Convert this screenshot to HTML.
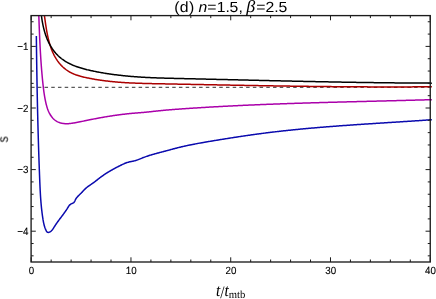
<!DOCTYPE html>
<html><head><meta charset="utf-8"><style>
html,body{margin:0;padding:0;background:#fff;}
body{width:436px;height:299px;overflow:hidden;}
svg{display:block;font-family:"Liberation Sans",sans-serif;text-rendering:geometricPrecision;}
text{will-change:transform;}
</style></head><body>
<svg width="436" height="299" viewBox="0 0 436 299">
<rect width="436" height="299" fill="#fff"/>
<defs><clipPath id="cp"><rect x="31.1" y="15.6" width="400.75" height="246.4"/></clipPath></defs>
<g clip-path="url(#cp)" fill="none" stroke-linejoin="round" stroke-linecap="butt">
<line x1="31.1" y1="87.3" x2="430.25" y2="87.3" stroke="#333" stroke-width="1.0" stroke-dasharray="3.5 3.22"/>
<path d="M42.78 5.15 L42.93 5.98 L43.08 6.81 L43.22 7.64 L43.36 8.48 L43.49 9.32 L43.63 10.16 L43.76 11.01 L43.88 11.86 L44.01 12.71 L44.13 13.56 L44.26 14.42 L44.38 15.27 L44.50 16.13 L44.62 16.99 L44.74 17.86 L44.86 18.72 L44.98 19.59 L45.10 20.46 L45.22 21.33 L45.34 22.20 L45.47 23.07 L45.59 23.94 L45.72 24.82 L45.85 25.69 L45.99 26.56 L46.13 27.44 L46.27 28.32 L46.41 29.19 L46.56 30.07 L46.71 30.94 L46.87 31.82 L47.03 32.70 L47.20 33.57 L47.37 34.45 L47.55 35.32 L47.73 36.20 L47.92 37.07 L48.12 37.94 L48.33 38.81 L48.54 39.69 L48.76 40.55 L48.99 41.42 L49.22 42.29 L49.46 43.15 L49.72 44.02 L49.98 44.88 L50.25 45.73 L50.53 46.59 L50.82 47.44 L51.12 48.28 L51.43 49.12 L51.76 49.96 L52.09 50.79 L52.43 51.61 L52.79 52.43 L53.16 53.24 L53.54 54.04 L53.93 54.83 L54.33 55.62 L54.75 56.39 L55.18 57.16 L55.63 57.92 L56.08 58.67 L56.55 59.40 L57.04 60.13 L57.53 60.85 L58.04 61.55 L58.57 62.24 L59.10 62.92 L59.65 63.59 L60.21 64.24 L60.78 64.88 L61.37 65.51 L61.97 66.12 L62.58 66.72 L63.20 67.30 L63.84 67.87 L64.48 68.43 L65.14 68.96 L65.82 69.48 L66.50 69.99 L67.20 70.48 L67.90 70.95 L68.63 71.40 L69.36 71.83 L70.10 72.25 L70.86 72.65 L71.62 73.03 L72.40 73.39 L73.18 73.74 L73.98 74.08 L74.78 74.40 L75.59 74.71 L76.41 75.00 L77.24 75.28 L78.07 75.55 L78.91 75.81 L79.75 76.06 L80.60 76.30 L81.46 76.52 L82.31 76.74 L83.18 76.96 L84.04 77.16 L84.91 77.36 L85.77 77.55 L86.64 77.74 L87.52 77.92 L88.39 78.10 L89.26 78.27 L90.13 78.44 L91.00 78.61 L91.87 78.77 L92.75 78.93 L93.62 79.09 L94.49 79.24 L95.36 79.39 L96.24 79.53 L97.11 79.67 L97.98 79.81 L98.86 79.95 L99.73 80.08 L100.61 80.20 L101.48 80.33 L102.35 80.45 L103.23 80.57 L104.10 80.68 L104.98 80.79 L105.85 80.90 L106.73 81.01 L107.61 81.11 L108.48 81.21 L109.36 81.31 L110.23 81.40 L111.11 81.49 L111.99 81.58 L112.86 81.67 L113.74 81.75 L114.62 81.84 L115.49 81.91 L116.37 81.99 L117.25 82.06 L118.13 82.14 L119.00 82.21 L119.88 82.27 L120.76 82.34 L121.64 82.40 L122.52 82.46 L123.39 82.52 L124.27 82.58 L125.15 82.63 L126.03 82.69 L126.91 82.74 L127.79 82.79 L128.67 82.83 L129.55 82.88 L130.42 82.92 L131.30 82.97 L132.18 83.01 L133.06 83.05 L133.94 83.09 L134.82 83.12 L135.70 83.16 L136.58 83.19 L137.46 83.22 L138.34 83.26 L139.22 83.29 L140.10 83.32 L140.98 83.34 L141.86 83.37 L142.74 83.40 L143.62 83.42 L144.50 83.45 L145.38 83.47 L146.26 83.49 L147.14 83.51 L148.02 83.54 L148.90 83.56 L149.78 83.58 L150.66 83.60 L151.55 83.62 L152.43 83.63 L153.31 83.65 L154.19 83.67 L155.07 83.69 L155.95 83.70 L156.83 83.72 L157.71 83.74 L158.59 83.76 L159.47 83.77 L160.35 83.79 L161.23 83.81 L162.11 83.82 L162.99 83.84 L163.87 83.86 L164.75 83.87 L165.63 83.89 L166.51 83.91 L167.39 83.92 L168.28 83.94 L169.16 83.96 L170.04 83.97 L170.92 83.99 L171.80 84.01 L172.68 84.03 L173.56 84.04 L174.44 84.06 L175.32 84.08 L176.20 84.09 L177.08 84.11 L177.96 84.13 L178.84 84.14 L179.72 84.16 L180.60 84.18 L181.48 84.20 L182.36 84.21 L183.24 84.23 L184.12 84.25 L185.00 84.26 L185.88 84.28 L186.76 84.30 L187.64 84.31 L188.52 84.33 L189.40 84.35 L190.28 84.37 L191.16 84.38 L192.04 84.40 L192.92 84.42 L193.80 84.43 L194.68 84.45 L195.56 84.47 L196.44 84.48 L197.32 84.50 L198.20 84.52 L199.08 84.54 L199.96 84.55 L200.84 84.57 L201.72 84.59 L202.60 84.60 L203.48 84.62 L204.36 84.64 L205.24 84.65 L206.12 84.67 L207.00 84.69 L207.88 84.70 L208.76 84.72 L209.64 84.74 L210.52 84.75 L211.40 84.77 L212.28 84.79 L213.16 84.81 L214.04 84.82 L214.92 84.84 L215.80 84.86 L216.68 84.87 L217.56 84.89 L218.44 84.91 L219.32 84.92 L220.20 84.94 L221.08 84.95 L221.96 84.97 L222.84 84.99 L223.72 85.00 L224.60 85.02 L225.48 85.04 L226.36 85.05 L227.24 85.07 L228.12 85.09 L229.00 85.10 L229.88 85.12 L230.76 85.13 L231.64 85.15 L232.52 85.17 L233.40 85.18 L234.28 85.20 L235.16 85.22 L236.04 85.23 L236.92 85.25 L237.80 85.26 L238.68 85.28 L239.56 85.30 L240.44 85.31 L241.32 85.33 L242.20 85.34 L243.08 85.36 L243.96 85.37 L244.84 85.39 L245.72 85.41 L246.60 85.42 L247.48 85.44 L248.36 85.45 L249.24 85.47 L250.12 85.48 L251.00 85.50 L251.88 85.51 L252.76 85.53 L253.64 85.54 L254.52 85.56 L255.40 85.57 L256.28 85.59 L257.16 85.60 L258.04 85.62 L258.92 85.63 L259.80 85.65 L260.68 85.66 L261.56 85.68 L262.44 85.69 L263.32 85.71 L264.19 85.72 L265.07 85.74 L265.95 85.75 L266.83 85.77 L267.71 85.78 L268.59 85.79 L269.47 85.81 L270.35 85.82 L271.23 85.84 L272.11 85.85 L272.99 85.86 L273.87 85.88 L274.75 85.89 L275.63 85.91 L276.51 85.92 L277.39 85.93 L278.27 85.95 L279.15 85.96 L280.03 85.97 L280.91 85.99 L281.79 86.00 L282.67 86.01 L283.55 86.03 L284.43 86.04 L285.31 86.05 L286.19 86.07 L287.07 86.08 L287.95 86.09 L288.83 86.10 L289.71 86.12 L290.59 86.13 L291.47 86.14 L292.35 86.16 L293.23 86.17 L294.11 86.18 L294.99 86.19 L295.87 86.20 L296.74 86.22 L297.62 86.23 L298.50 86.24 L299.38 86.25 L300.26 86.26 L301.14 86.28 L302.02 86.29 L302.90 86.30 L303.78 86.31 L304.66 86.32 L305.54 86.33 L306.42 86.34 L307.30 86.35 L308.18 86.37 L309.06 86.38 L309.94 86.39 L310.82 86.40 L311.70 86.41 L312.58 86.42 L313.46 86.43 L314.34 86.44 L315.22 86.45 L316.10 86.46 L316.98 86.47 L317.86 86.48 L318.74 86.49 L319.62 86.50 L320.50 86.51 L321.38 86.52 L322.26 86.53 L323.14 86.54 L324.02 86.55 L324.90 86.56 L325.78 86.57 L326.66 86.58 L327.54 86.58 L328.42 86.59 L329.30 86.60 L330.18 86.61 L331.06 86.62 L331.94 86.63 L332.82 86.64 L333.70 86.64 L334.58 86.65 L335.46 86.66 L336.34 86.67 L337.22 86.68 L338.10 86.68 L338.98 86.69 L339.86 86.70 L340.74 86.71 L341.62 86.71 L342.50 86.72 L343.38 86.73 L344.26 86.73 L345.14 86.74 L346.02 86.75 L346.90 86.75 L347.78 86.76 L348.66 86.77 L349.54 86.77 L350.42 86.78 L351.30 86.79 L352.18 86.79 L353.06 86.80 L353.94 86.80 L354.82 86.81 L355.70 86.81 L356.58 86.82 L357.46 86.82 L358.34 86.83 L359.22 86.83 L360.10 86.84 L360.98 86.84 L361.86 86.85 L362.74 86.85 L363.62 86.86 L364.50 86.86 L365.38 86.86 L366.26 86.87 L367.14 86.87 L368.02 86.88 L368.90 86.88 L369.78 86.88 L370.66 86.89 L371.54 86.89 L372.42 86.89 L373.30 86.89 L374.18 86.90 L375.06 86.90 L375.94 86.90 L376.82 86.90 L377.70 86.91 L378.58 86.91 L379.46 86.91 L380.34 86.91 L381.22 86.91 L382.10 86.92 L382.98 86.92 L383.86 86.92 L384.74 86.92 L385.63 86.92 L386.51 86.92 L387.39 86.92 L388.27 86.92 L389.15 86.92 L390.03 86.92 L390.91 86.92 L391.79 86.92 L392.67 86.92 L393.55 86.92 L394.43 86.92 L395.31 86.92 L396.19 86.92 L397.07 86.92 L397.95 86.92 L398.83 86.92 L399.71 86.91 L400.59 86.91 L401.47 86.91 L402.36 86.91 L403.24 86.91 L404.12 86.90 L405.00 86.90 L405.88 86.90 L406.76 86.90 L407.64 86.89 L408.52 86.89 L409.40 86.89 L410.28 86.88 L411.16 86.88 L412.04 86.88 L412.92 86.87 L413.80 86.87 L414.69 86.87 L415.57 86.86 L416.45 86.86 L417.33 86.85 L418.21 86.85 L419.09 86.84 L419.97 86.84 L420.85 86.83 L421.73 86.83 L422.61 86.82 L423.49 86.82 L424.38 86.81 L425.26 86.80 L426.14 86.80 L427.02 86.79 L427.90 86.78 L428.78 86.78 L429.66 86.77 L430.54 86.76 L431.42 86.76 L432.31 86.75" stroke="#aa0000" stroke-width="1.5"/>
<path d="M40.47 5.14 L40.53 5.94 L40.58 6.74 L40.64 7.55 L40.70 8.37 L40.77 9.19 L40.84 10.01 L40.91 10.84 L40.99 11.68 L41.08 12.52 L41.17 13.37 L41.26 14.22 L41.36 15.07 L41.47 15.92 L41.58 16.78 L41.69 17.64 L41.82 18.51 L41.95 19.37 L42.08 20.24 L42.22 21.11 L42.37 21.98 L42.53 22.85 L42.70 23.72 L42.87 24.59 L43.05 25.46 L43.24 26.33 L43.43 27.20 L43.64 28.07 L43.85 28.94 L44.07 29.80 L44.31 30.66 L44.55 31.52 L44.80 32.38 L45.06 33.23 L45.33 34.08 L45.61 34.93 L45.90 35.77 L46.20 36.61 L46.51 37.44 L46.83 38.27 L47.17 39.09 L47.51 39.91 L47.87 40.72 L48.24 41.53 L48.62 42.32 L49.01 43.11 L49.42 43.90 L49.84 44.67 L50.27 45.44 L50.71 46.20 L51.16 46.95 L51.63 47.69 L52.10 48.42 L52.59 49.14 L53.09 49.85 L53.60 50.55 L54.13 51.24 L54.66 51.91 L55.21 52.58 L55.76 53.23 L56.33 53.87 L56.91 54.49 L57.50 55.10 L58.10 55.70 L58.72 56.29 L59.34 56.86 L59.97 57.41 L60.62 57.95 L61.27 58.48 L61.94 58.99 L62.61 59.49 L63.30 59.97 L63.99 60.44 L64.69 60.90 L65.41 61.35 L66.13 61.78 L66.85 62.21 L67.59 62.62 L68.33 63.02 L69.08 63.40 L69.84 63.78 L70.61 64.15 L71.38 64.50 L72.16 64.85 L72.94 65.19 L73.73 65.51 L74.53 65.83 L75.33 66.14 L76.14 66.44 L76.95 66.73 L77.77 67.01 L78.59 67.29 L79.42 67.56 L80.25 67.82 L81.08 68.07 L81.92 68.32 L82.76 68.56 L83.60 68.79 L84.45 69.02 L85.30 69.24 L86.15 69.45 L87.00 69.67 L87.85 69.87 L88.71 70.07 L89.57 70.27 L90.42 70.46 L91.28 70.65 L92.14 70.84 L93.00 71.02 L93.86 71.20 L94.72 71.38 L95.58 71.55 L96.44 71.72 L97.30 71.89 L98.16 72.05 L99.02 72.21 L99.89 72.37 L100.75 72.53 L101.61 72.68 L102.47 72.83 L103.33 72.98 L104.19 73.12 L105.05 73.26 L105.92 73.40 L106.78 73.54 L107.64 73.67 L108.50 73.80 L109.36 73.93 L110.23 74.05 L111.09 74.18 L111.95 74.30 L112.81 74.42 L113.68 74.53 L114.54 74.65 L115.40 74.76 L116.27 74.86 L117.13 74.97 L117.99 75.07 L118.86 75.18 L119.72 75.28 L120.58 75.37 L121.45 75.47 L122.31 75.56 L123.18 75.65 L124.04 75.74 L124.91 75.83 L125.77 75.91 L126.63 75.99 L127.50 76.08 L128.36 76.15 L129.23 76.23 L130.09 76.31 L130.96 76.38 L131.82 76.45 L132.69 76.52 L133.55 76.59 L134.42 76.66 L135.29 76.72 L136.15 76.78 L137.02 76.84 L137.88 76.90 L138.75 76.96 L139.61 77.02 L140.48 77.07 L141.35 77.13 L142.21 77.18 L143.08 77.23 L143.94 77.28 L144.81 77.33 L145.68 77.38 L146.54 77.42 L147.41 77.47 L148.28 77.51 L149.14 77.55 L150.01 77.59 L150.88 77.63 L151.74 77.67 L152.61 77.71 L153.48 77.74 L154.35 77.78 L155.21 77.81 L156.08 77.85 L156.95 77.88 L157.81 77.91 L158.68 77.94 L159.55 77.97 L160.42 78.00 L161.28 78.03 L162.15 78.06 L163.02 78.09 L163.89 78.11 L164.75 78.14 L165.62 78.16 L166.49 78.19 L167.36 78.21 L168.22 78.24 L169.09 78.26 L169.96 78.28 L170.83 78.30 L171.70 78.33 L172.56 78.35 L173.43 78.37 L174.30 78.39 L175.17 78.41 L176.04 78.43 L176.90 78.45 L177.77 78.47 L178.64 78.49 L179.51 78.51 L180.38 78.53 L181.24 78.55 L182.11 78.57 L182.98 78.59 L183.85 78.61 L184.72 78.63 L185.58 78.65 L186.45 78.67 L187.32 78.69 L188.19 78.71 L189.06 78.73 L189.93 78.75 L190.79 78.77 L191.66 78.79 L192.53 78.81 L193.40 78.83 L194.27 78.85 L195.13 78.87 L196.00 78.89 L196.87 78.91 L197.74 78.93 L198.61 78.95 L199.48 78.97 L200.34 78.99 L201.21 79.01 L202.08 79.03 L202.95 79.05 L203.82 79.07 L204.69 79.09 L205.55 79.11 L206.42 79.13 L207.29 79.15 L208.16 79.17 L209.03 79.19 L209.90 79.21 L210.77 79.23 L211.63 79.25 L212.50 79.27 L213.37 79.29 L214.24 79.31 L215.11 79.33 L215.98 79.36 L216.84 79.38 L217.71 79.40 L218.58 79.42 L219.45 79.44 L220.32 79.46 L221.19 79.48 L222.06 79.50 L222.92 79.52 L223.79 79.54 L224.66 79.56 L225.53 79.58 L226.40 79.60 L227.27 79.62 L228.14 79.64 L229.00 79.66 L229.87 79.69 L230.74 79.71 L231.61 79.73 L232.48 79.75 L233.35 79.77 L234.22 79.79 L235.08 79.81 L235.95 79.83 L236.82 79.85 L237.69 79.87 L238.56 79.89 L239.43 79.91 L240.30 79.93 L241.17 79.95 L242.03 79.98 L242.90 80.00 L243.77 80.02 L244.64 80.04 L245.51 80.06 L246.38 80.08 L247.25 80.10 L248.11 80.12 L248.98 80.14 L249.85 80.16 L250.72 80.18 L251.59 80.20 L252.46 80.22 L253.33 80.24 L254.20 80.26 L255.06 80.28 L255.93 80.30 L256.80 80.32 L257.67 80.35 L258.54 80.37 L259.41 80.39 L260.28 80.41 L261.15 80.43 L262.02 80.45 L262.88 80.47 L263.75 80.49 L264.62 80.51 L265.49 80.53 L266.36 80.55 L267.23 80.57 L268.10 80.59 L268.97 80.61 L269.83 80.63 L270.70 80.65 L271.57 80.67 L272.44 80.69 L273.31 80.71 L274.18 80.73 L275.05 80.75 L275.92 80.77 L276.79 80.79 L277.65 80.81 L278.52 80.83 L279.39 80.85 L280.26 80.87 L281.13 80.89 L282.00 80.91 L282.87 80.93 L283.74 80.95 L284.61 80.96 L285.47 80.98 L286.34 81.00 L287.21 81.02 L288.08 81.04 L288.95 81.06 L289.82 81.08 L290.69 81.10 L291.56 81.12 L292.43 81.14 L293.29 81.16 L294.16 81.18 L295.03 81.20 L295.90 81.21 L296.77 81.23 L297.64 81.25 L298.51 81.27 L299.38 81.29 L300.25 81.31 L301.11 81.33 L301.98 81.35 L302.85 81.36 L303.72 81.38 L304.59 81.40 L305.46 81.42 L306.33 81.44 L307.20 81.46 L308.07 81.47 L308.93 81.49 L309.80 81.51 L310.67 81.53 L311.54 81.55 L312.41 81.56 L313.28 81.58 L314.15 81.60 L315.02 81.62 L315.89 81.63 L316.75 81.65 L317.62 81.67 L318.49 81.69 L319.36 81.70 L320.23 81.72 L321.10 81.74 L321.97 81.76 L322.84 81.77 L323.71 81.79 L324.58 81.81 L325.44 81.82 L326.31 81.84 L327.18 81.86 L328.05 81.87 L328.92 81.89 L329.79 81.91 L330.66 81.92 L331.53 81.94 L332.40 81.96 L333.26 81.97 L334.13 81.99 L335.00 82.00 L335.87 82.02 L336.74 82.04 L337.61 82.05 L338.48 82.07 L339.35 82.08 L340.22 82.10 L341.08 82.11 L341.95 82.13 L342.82 82.14 L343.69 82.16 L344.56 82.17 L345.43 82.19 L346.30 82.20 L347.17 82.22 L348.04 82.23 L348.90 82.25 L349.77 82.26 L350.64 82.28 L351.51 82.29 L352.38 82.31 L353.25 82.32 L354.12 82.33 L354.99 82.35 L355.86 82.36 L356.72 82.38 L357.59 82.39 L358.46 82.40 L359.33 82.42 L360.20 82.43 L361.07 82.44 L361.94 82.46 L362.81 82.47 L363.68 82.48 L364.54 82.50 L365.41 82.51 L366.28 82.52 L367.15 82.53 L368.02 82.55 L368.89 82.56 L369.76 82.57 L370.63 82.58 L371.49 82.59 L372.36 82.61 L373.23 82.62 L374.10 82.63 L374.97 82.64 L375.84 82.65 L376.71 82.66 L377.58 82.68 L378.45 82.69 L379.31 82.70 L380.18 82.71 L381.05 82.72 L381.92 82.73 L382.79 82.74 L383.66 82.75 L384.53 82.76 L385.40 82.77 L386.26 82.78 L387.13 82.79 L388.00 82.80 L388.87 82.81 L389.74 82.82 L390.61 82.83 L391.48 82.84 L392.34 82.85 L393.21 82.86 L394.08 82.87 L394.95 82.88 L395.82 82.89 L396.69 82.89 L397.56 82.90 L398.43 82.91 L399.29 82.92 L400.16 82.93 L401.03 82.94 L401.90 82.94 L402.77 82.95 L403.64 82.96 L404.51 82.97 L405.37 82.97 L406.24 82.98 L407.11 82.99 L407.98 82.99 L408.85 83.00 L409.72 83.01 L410.59 83.01 L411.45 83.02 L412.32 83.03 L413.19 83.03 L414.06 83.04 L414.93 83.05 L415.80 83.05 L416.67 83.06 L417.53 83.06 L418.40 83.07 L419.27 83.07 L420.14 83.08 L421.01 83.08 L421.88 83.09 L422.74 83.09 L423.61 83.10 L424.48 83.10 L425.35 83.10 L426.22 83.11 L427.09 83.11 L427.96 83.11 L428.82 83.12 L429.69 83.12 L430.56 83.12 L431.43 83.13 L432.30 83.13" stroke="#000" stroke-width="1.5"/>
<path d="M38.44 5.02 L38.46 5.63 L38.48 6.25 L38.50 6.87 L38.53 7.49 L38.55 8.11 L38.57 8.73 L38.59 9.35 L38.61 9.97 L38.64 10.59 L38.66 11.21 L38.68 11.83 L38.70 12.45 L38.72 13.07 L38.74 13.70 L38.77 14.32 L38.79 14.94 L38.81 15.56 L38.83 16.18 L38.85 16.80 L38.88 17.42 L38.90 18.04 L38.92 18.67 L38.94 19.29 L38.97 19.91 L38.99 20.53 L39.01 21.15 L39.03 21.78 L39.06 22.40 L39.08 23.02 L39.10 23.64 L39.13 24.27 L39.15 24.89 L39.17 25.51 L39.20 26.13 L39.22 26.76 L39.24 27.38 L39.27 28.00 L39.29 28.62 L39.32 29.25 L39.34 29.87 L39.37 30.49 L39.39 31.12 L39.42 31.74 L39.44 32.36 L39.47 32.99 L39.49 33.61 L39.52 34.23 L39.55 34.86 L39.57 35.48 L39.60 36.10 L39.63 36.73 L39.65 37.35 L39.68 37.97 L39.71 38.60 L39.74 39.22 L39.77 39.84 L39.80 40.47 L39.83 41.09 L39.86 41.71 L39.89 42.34 L39.92 42.96 L39.95 43.58 L39.98 44.21 L40.01 44.83 L40.04 45.45 L40.07 46.07 L40.10 46.70 L40.14 47.32 L40.17 47.94 L40.20 48.57 L40.24 49.19 L40.27 49.81 L40.30 50.44 L40.34 51.06 L40.38 51.68 L40.41 52.30 L40.45 52.93 L40.48 53.55 L40.52 54.17 L40.56 54.79 L40.60 55.42 L40.64 56.04 L40.67 56.66 L40.71 57.28 L40.75 57.91 L40.79 58.53 L40.83 59.15 L40.88 59.77 L40.92 60.39 L40.96 61.01 L41.00 61.64 L41.05 62.26 L41.09 62.88 L41.13 63.50 L41.18 64.12 L41.23 64.74 L41.27 65.36 L41.32 65.98 L41.37 66.60 L41.41 67.22 L41.46 67.84 L41.51 68.46 L41.56 69.08 L41.61 69.70 L41.66 70.32 L41.71 70.94 L41.77 71.56 L41.82 72.18 L41.87 72.80 L41.92 73.42 L41.98 74.04 L42.03 74.66 L42.09 75.28 L42.15 75.89 L42.20 76.51 L42.26 77.13 L42.32 77.75 L42.38 78.36 L42.44 78.98 L42.50 79.60 L42.56 80.22 L42.62 80.83 L42.69 81.45 L42.75 82.07 L42.82 82.68 L42.88 83.30 L42.95 83.91 L43.01 84.53 L43.08 85.15 L43.15 85.76 L43.22 86.38 L43.29 86.99 L43.36 87.61 L43.43 88.22 L43.51 88.83 L43.59 89.45 L43.66 90.06 L43.74 90.68 L43.83 91.29 L43.91 91.91 L44.00 92.52 L44.08 93.13 L44.18 93.75 L44.27 94.36 L44.36 94.98 L44.46 95.59 L44.57 96.20 L44.67 96.82 L44.78 97.43 L44.89 98.05 L45.00 98.66 L45.12 99.28 L45.24 99.89 L45.37 100.50 L45.49 101.12 L45.63 101.73 L45.76 102.35 L45.90 102.97 L46.05 103.58 L46.20 104.20 L46.35 104.81 L46.51 105.42 L46.68 106.04 L46.85 106.64 L47.03 107.25 L47.22 107.86 L47.42 108.46 L47.62 109.06 L47.84 109.65 L48.06 110.24 L48.30 110.82 L48.55 111.40 L48.80 111.98 L49.07 112.55 L49.35 113.11 L49.65 113.66 L49.96 114.21 L50.28 114.75 L50.61 115.28 L50.96 115.80 L51.32 116.31 L51.69 116.81 L52.08 117.29 L52.48 117.77 L52.89 118.22 L53.32 118.67 L53.76 119.10 L54.21 119.51 L54.67 119.90 L55.15 120.27 L55.64 120.63 L56.14 120.97 L56.66 121.28 L57.18 121.58 L57.72 121.85 L58.27 122.10 L58.83 122.34 L59.40 122.55 L59.97 122.75 L60.56 122.93 L61.15 123.09 L61.74 123.23 L62.35 123.35 L62.95 123.45 L63.57 123.54 L64.18 123.60 L64.80 123.65 L65.42 123.69 L66.05 123.70 L66.67 123.71 L67.30 123.69 L67.93 123.67 L68.56 123.63 L69.19 123.58 L69.82 123.52 L70.45 123.45 L71.08 123.37 L71.71 123.29 L72.34 123.20 L72.97 123.10 L73.60 123.00 L74.22 122.89 L74.85 122.78 L75.47 122.67 L76.09 122.56 L76.71 122.45 L77.33 122.33 L77.95 122.21 L78.56 122.10 L79.18 121.98 L79.79 121.85 L80.40 121.73 L81.01 121.61 L81.62 121.49 L82.23 121.36 L82.84 121.24 L83.45 121.11 L84.05 120.98 L84.66 120.86 L85.27 120.73 L85.87 120.61 L86.48 120.48 L87.09 120.35 L87.69 120.23 L88.30 120.10 L88.90 119.98 L89.51 119.85 L90.12 119.73 L90.73 119.61 L91.33 119.48 L91.94 119.36 L92.55 119.24 L93.16 119.12 L93.77 119.00 L94.38 118.88 L94.99 118.77 L95.60 118.65 L96.21 118.53 L96.82 118.42 L97.43 118.30 L98.04 118.19 L98.65 118.07 L99.26 117.96 L99.87 117.85 L100.49 117.74 L101.10 117.63 L101.71 117.52 L102.32 117.41 L102.94 117.30 L103.55 117.20 L104.16 117.09 L104.78 116.98 L105.39 116.88 L106.00 116.78 L106.62 116.67 L107.23 116.57 L107.85 116.47 L108.46 116.37 L109.08 116.27 L109.69 116.17 L110.31 116.08 L110.92 115.98 L111.54 115.89 L112.16 115.79 L112.77 115.70 L113.39 115.61 L114.01 115.52 L114.62 115.43 L115.24 115.34 L115.86 115.25 L116.47 115.16 L117.09 115.08 L117.71 114.99 L118.33 114.91 L118.94 114.82 L119.56 114.74 L120.18 114.66 L120.80 114.58 L121.42 114.50 L122.04 114.43 L122.65 114.35 L123.27 114.28 L123.89 114.20 L124.51 114.13 L125.13 114.06 L125.75 113.99 L126.37 113.92 L126.99 113.85 L127.61 113.78 L128.23 113.72 L128.85 113.65 L129.47 113.59 L130.09 113.53 L130.71 113.47 L131.33 113.41 L131.95 113.35 L132.57 113.29 L133.19 113.24 L133.81 113.18 L134.43 113.13 L135.05 113.08 L135.67 113.03 L136.29 112.98 L136.91 112.93 L137.53 112.88 L138.15 112.84 L138.77 112.79 L139.39 112.74 L140.01 112.69 L140.63 112.65 L141.25 112.60 L141.87 112.55 L142.49 112.50 L143.11 112.45 L143.73 112.39 L144.35 112.34 L144.97 112.28 L145.59 112.22 L146.21 112.16 L146.83 112.10 L147.45 112.04 L148.07 111.97 L148.69 111.90 L149.30 111.84 L149.92 111.77 L150.54 111.70 L151.16 111.63 L151.78 111.56 L152.40 111.49 L153.02 111.42 L153.64 111.35 L154.26 111.28 L154.88 111.21 L155.49 111.15 L156.11 111.08 L156.73 111.02 L157.35 110.95 L157.97 110.89 L158.59 110.82 L159.21 110.76 L159.83 110.70 L160.45 110.64 L161.07 110.58 L161.69 110.52 L162.31 110.46 L162.93 110.40 L163.55 110.35 L164.17 110.29 L164.79 110.23 L165.41 110.18 L166.03 110.12 L166.65 110.07 L167.27 110.02 L167.89 109.96 L168.51 109.91 L169.13 109.86 L169.76 109.81 L170.38 109.76 L171.00 109.71 L171.62 109.66 L172.24 109.61 L172.86 109.56 L173.48 109.51 L174.10 109.46 L174.72 109.42 L175.34 109.37 L175.96 109.32 L176.58 109.28 L177.21 109.23 L177.83 109.18 L178.45 109.14 L179.07 109.09 L179.69 109.05 L180.31 109.00 L180.93 108.96 L181.55 108.92 L182.17 108.87 L182.80 108.83 L183.42 108.79 L184.04 108.74 L184.66 108.70 L185.28 108.66 L185.90 108.61 L186.52 108.57 L187.14 108.53 L187.77 108.49 L188.39 108.44 L189.01 108.40 L189.63 108.36 L190.25 108.32 L190.87 108.28 L191.49 108.24 L192.11 108.20 L192.74 108.16 L193.36 108.11 L193.98 108.07 L194.60 108.03 L195.22 107.99 L195.84 107.95 L196.46 107.91 L197.09 107.88 L197.71 107.84 L198.33 107.80 L198.95 107.76 L199.57 107.72 L200.19 107.68 L200.81 107.64 L201.44 107.60 L202.06 107.56 L202.68 107.53 L203.30 107.49 L203.92 107.45 L204.54 107.41 L205.16 107.38 L205.79 107.34 L206.41 107.30 L207.03 107.26 L207.65 107.23 L208.27 107.19 L208.89 107.15 L209.52 107.12 L210.14 107.08 L210.76 107.05 L211.38 107.01 L212.00 106.97 L212.62 106.94 L213.25 106.90 L213.87 106.87 L214.49 106.83 L215.11 106.80 L215.73 106.76 L216.35 106.73 L216.98 106.69 L217.60 106.66 L218.22 106.63 L218.84 106.59 L219.46 106.56 L220.08 106.52 L220.71 106.49 L221.33 106.46 L221.95 106.42 L222.57 106.39 L223.19 106.36 L223.81 106.33 L224.44 106.29 L225.06 106.26 L225.68 106.23 L226.30 106.20 L226.92 106.16 L227.54 106.13 L228.17 106.10 L228.79 106.07 L229.41 106.04 L230.03 106.00 L230.65 105.97 L231.28 105.94 L231.90 105.91 L232.52 105.88 L233.14 105.85 L233.76 105.82 L234.39 105.79 L235.01 105.76 L235.63 105.73 L236.25 105.70 L236.87 105.67 L237.49 105.64 L238.12 105.61 L238.74 105.58 L239.36 105.55 L239.98 105.52 L240.60 105.49 L241.23 105.46 L241.85 105.43 L242.47 105.40 L243.09 105.37 L243.71 105.35 L244.34 105.32 L244.96 105.29 L245.58 105.26 L246.20 105.23 L246.82 105.21 L247.45 105.18 L248.07 105.15 L248.69 105.12 L249.31 105.09 L249.93 105.07 L250.56 105.04 L251.18 105.01 L251.80 104.99 L252.42 104.96 L253.04 104.93 L253.67 104.91 L254.29 104.88 L254.91 104.85 L255.53 104.83 L256.15 104.80 L256.78 104.77 L257.40 104.75 L258.02 104.72 L258.64 104.70 L259.27 104.67 L259.89 104.65 L260.51 104.62 L261.13 104.59 L261.75 104.57 L262.38 104.54 L263.00 104.52 L263.62 104.49 L264.24 104.47 L264.86 104.44 L265.49 104.42 L266.11 104.40 L266.73 104.37 L267.35 104.35 L267.98 104.32 L268.60 104.30 L269.22 104.27 L269.84 104.25 L270.46 104.23 L271.09 104.20 L271.71 104.18 L272.33 104.16 L272.95 104.13 L273.58 104.11 L274.20 104.09 L274.82 104.06 L275.44 104.04 L276.06 104.02 L276.69 103.99 L277.31 103.97 L277.93 103.95 L278.55 103.93 L279.18 103.90 L279.80 103.88 L280.42 103.86 L281.04 103.84 L281.67 103.82 L282.29 103.79 L282.91 103.77 L283.53 103.75 L284.15 103.73 L284.78 103.71 L285.40 103.68 L286.02 103.66 L286.64 103.64 L287.27 103.62 L287.89 103.60 L288.51 103.58 L289.13 103.56 L289.76 103.54 L290.38 103.51 L291.00 103.49 L291.62 103.47 L292.24 103.45 L292.87 103.43 L293.49 103.41 L294.11 103.39 L294.73 103.37 L295.36 103.35 L295.98 103.33 L296.60 103.31 L297.22 103.29 L297.85 103.27 L298.47 103.25 L299.09 103.23 L299.71 103.21 L300.34 103.19 L300.96 103.17 L301.58 103.15 L302.20 103.13 L302.83 103.11 L303.45 103.09 L304.07 103.07 L304.69 103.05 L305.32 103.04 L305.94 103.02 L306.56 103.00 L307.18 102.98 L307.80 102.96 L308.43 102.94 L309.05 102.92 L309.67 102.90 L310.29 102.88 L310.92 102.87 L311.54 102.85 L312.16 102.83 L312.78 102.81 L313.41 102.79 L314.03 102.77 L314.65 102.76 L315.27 102.74 L315.90 102.72 L316.52 102.70 L317.14 102.68 L317.76 102.66 L318.39 102.65 L319.01 102.63 L319.63 102.61 L320.25 102.59 L320.88 102.58 L321.50 102.56 L322.12 102.54 L322.74 102.52 L323.37 102.51 L323.99 102.49 L324.61 102.47 L325.23 102.45 L325.86 102.44 L326.48 102.42 L327.10 102.40 L327.72 102.38 L328.35 102.37 L328.97 102.35 L329.59 102.33 L330.21 102.32 L330.84 102.30 L331.46 102.28 L332.08 102.26 L332.70 102.25 L333.33 102.23 L333.95 102.21 L334.57 102.20 L335.19 102.18 L335.82 102.16 L336.44 102.15 L337.06 102.13 L337.68 102.11 L338.31 102.10 L338.93 102.08 L339.55 102.06 L340.17 102.05 L340.80 102.03 L341.42 102.02 L342.04 102.00 L342.66 101.98 L343.29 101.97 L343.91 101.95 L344.53 101.93 L345.15 101.92 L345.78 101.90 L346.40 101.89 L347.02 101.87 L347.65 101.85 L348.27 101.84 L348.89 101.82 L349.51 101.80 L350.14 101.79 L350.76 101.77 L351.38 101.76 L352.00 101.74 L352.63 101.73 L353.25 101.71 L353.87 101.69 L354.49 101.68 L355.12 101.66 L355.74 101.65 L356.36 101.63 L356.98 101.61 L357.61 101.60 L358.23 101.58 L358.85 101.57 L359.47 101.55 L360.10 101.54 L360.72 101.52 L361.34 101.50 L361.96 101.49 L362.59 101.47 L363.21 101.46 L363.83 101.44 L364.45 101.43 L365.08 101.41 L365.70 101.39 L366.32 101.38 L366.94 101.36 L367.57 101.35 L368.19 101.33 L368.81 101.32 L369.43 101.30 L370.06 101.29 L370.68 101.27 L371.30 101.25 L371.92 101.24 L372.55 101.22 L373.17 101.21 L373.79 101.19 L374.41 101.18 L375.04 101.16 L375.66 101.15 L376.28 101.13 L376.90 101.11 L377.53 101.10 L378.15 101.08 L378.77 101.07 L379.39 101.05 L380.02 101.04 L380.64 101.02 L381.26 101.01 L381.88 100.99 L382.51 100.97 L383.13 100.96 L383.75 100.94 L384.37 100.93 L385.00 100.91 L385.62 100.90 L386.24 100.88 L386.86 100.86 L387.49 100.85 L388.11 100.83 L388.73 100.82 L389.35 100.80 L389.98 100.79 L390.60 100.77 L391.22 100.75 L391.84 100.74 L392.47 100.72 L393.09 100.71 L393.71 100.69 L394.33 100.68 L394.96 100.66 L395.58 100.64 L396.20 100.63 L396.82 100.61 L397.45 100.60 L398.07 100.58 L398.69 100.56 L399.31 100.55 L399.94 100.53 L400.56 100.52 L401.18 100.50 L401.80 100.48 L402.43 100.47 L403.05 100.45 L403.67 100.43 L404.29 100.42 L404.92 100.40 L405.54 100.39 L406.16 100.37 L406.78 100.35 L407.41 100.34 L408.03 100.32 L408.65 100.30 L409.27 100.29 L409.89 100.27 L410.52 100.25 L411.14 100.24 L411.76 100.22 L412.38 100.20 L413.01 100.19 L413.63 100.17 L414.25 100.15 L414.87 100.14 L415.50 100.12 L416.12 100.10 L416.74 100.09 L417.36 100.07 L417.99 100.05 L418.61 100.04 L419.23 100.02 L419.85 100.00 L420.48 99.98 L421.10 99.97 L421.72 99.95 L422.34 99.93 L422.96 99.91 L423.59 99.90 L424.21 99.88 L424.83 99.86 L425.45 99.84 L426.08 99.83 L426.70 99.81 L427.32 99.79 L427.94 99.77 L428.57 99.76 L429.19 99.74 L429.81 99.72 L430.43 99.70 L431.05 99.68 L431.68 99.67 L432.30 99.65" stroke="#aa00aa" stroke-width="1.5"/>
<path d="M36.35 36.00 L36.36 36.68 L36.37 37.37 L36.38 38.05 L36.38 38.74 L36.39 39.42 L36.40 40.10 L36.41 40.79 L36.42 41.47 L36.42 42.16 L36.43 42.84 L36.44 43.53 L36.45 44.21 L36.46 44.89 L36.46 45.58 L36.47 46.26 L36.48 46.95 L36.49 47.63 L36.50 48.32 L36.51 49.00 L36.52 49.68 L36.52 50.37 L36.53 51.05 L36.54 51.74 L36.55 52.42 L36.56 53.11 L36.57 53.79 L36.58 54.47 L36.59 55.16 L36.60 55.84 L36.61 56.53 L36.61 57.21 L36.62 57.90 L36.63 58.58 L36.64 59.26 L36.65 59.95 L36.66 60.63 L36.67 61.32 L36.68 62.00 L36.69 62.68 L36.70 63.37 L36.71 64.05 L36.72 64.74 L36.73 65.42 L36.74 66.11 L36.75 66.79 L36.76 67.47 L36.77 68.16 L36.78 68.84 L36.79 69.53 L36.81 70.21 L36.82 70.89 L36.83 71.58 L36.84 72.26 L36.85 72.95 L36.86 73.63 L36.87 74.32 L36.88 75.00 L36.89 75.68 L36.91 76.37 L36.92 77.05 L36.93 77.74 L36.94 78.42 L36.95 79.10 L36.96 79.79 L36.98 80.47 L36.99 81.16 L37.00 81.84 L37.01 82.52 L37.02 83.21 L37.04 83.89 L37.05 84.58 L37.06 85.26 L37.07 85.95 L37.09 86.63 L37.10 87.31 L37.11 88.00 L37.12 88.68 L37.14 89.37 L37.15 90.05 L37.16 90.73 L37.18 91.42 L37.19 92.10 L37.20 92.79 L37.22 93.47 L37.23 94.15 L37.24 94.84 L37.26 95.52 L37.27 96.21 L37.28 96.89 L37.30 97.57 L37.31 98.26 L37.33 98.94 L37.34 99.63 L37.35 100.31 L37.37 100.99 L37.38 101.68 L37.40 102.36 L37.41 103.05 L37.43 103.73 L37.44 104.41 L37.46 105.10 L37.47 105.78 L37.49 106.47 L37.50 107.15 L37.52 107.83 L37.53 108.52 L37.55 109.20 L37.56 109.89 L37.58 110.57 L37.60 111.25 L37.61 111.94 L37.63 112.62 L37.64 113.31 L37.66 113.99 L37.68 114.67 L37.69 115.36 L37.71 116.04 L37.73 116.73 L37.74 117.41 L37.76 118.09 L37.78 118.78 L37.79 119.46 L37.81 120.15 L37.83 120.83 L37.84 121.51 L37.86 122.20 L37.88 122.88 L37.90 123.57 L37.91 124.25 L37.93 124.93 L37.95 125.62 L37.97 126.30 L37.99 126.99 L38.00 127.67 L38.02 128.35 L38.04 129.04 L38.06 129.72 L38.08 130.41 L38.10 131.09 L38.11 131.77 L38.13 132.46 L38.15 133.14 L38.17 133.83 L38.19 134.51 L38.21 135.19 L38.23 135.88 L38.25 136.56 L38.27 137.25 L38.29 137.93 L38.31 138.61 L38.33 139.30 L38.35 139.98 L38.37 140.67 L38.39 141.35 L38.41 142.03 L38.43 142.72 L38.45 143.40 L38.47 144.08 L38.49 144.77 L38.51 145.45 L38.53 146.14 L38.55 146.82 L38.58 147.50 L38.60 148.19 L38.62 148.87 L38.64 149.56 L38.66 150.24 L38.68 150.92 L38.71 151.61 L38.73 152.29 L38.75 152.98 L38.77 153.66 L38.80 154.34 L38.82 155.03 L38.84 155.71 L38.86 156.40 L38.89 157.08 L38.91 157.76 L38.93 158.45 L38.96 159.13 L38.98 159.82 L39.00 160.50 L39.03 161.18 L39.05 161.87 L39.07 162.55 L39.10 163.23 L39.12 163.92 L39.15 164.60 L39.17 165.29 L39.20 165.97 L39.22 166.65 L39.24 167.34 L39.27 168.02 L39.29 168.71 L39.32 169.39 L39.34 170.07 L39.37 170.76 L39.40 171.44 L39.42 172.13 L39.45 172.81 L39.47 173.49 L39.50 174.18 L39.52 174.86 L39.55 175.55 L39.58 176.23 L39.60 176.91 L39.63 177.60 L39.66 178.28 L39.68 178.96 L39.71 179.65 L39.74 180.33 L39.77 181.02 L39.79 181.70 L39.82 182.38 L39.85 183.07 L39.88 183.75 L39.91 184.44 L39.94 185.12 L39.97 185.80 L40.00 186.49 L40.03 187.17 L40.06 187.85 L40.10 188.54 L40.13 189.22 L40.16 189.90 L40.20 190.59 L40.23 191.27 L40.27 191.95 L40.31 192.64 L40.35 193.32 L40.39 194.00 L40.43 194.69 L40.47 195.37 L40.51 196.05 L40.56 196.73 L40.60 197.42 L40.65 198.10 L40.70 198.78 L40.75 199.46 L40.80 200.14 L40.85 200.82 L40.90 201.51 L40.96 202.19 L41.02 202.87 L41.08 203.55 L41.14 204.23 L41.20 204.91 L41.26 205.59 L41.33 206.27 L41.39 206.95 L41.46 207.63 L41.53 208.31 L41.61 208.99 L41.68 209.67 L41.76 210.35 L41.84 211.03 L41.92 211.71 L42.00 212.39 L42.09 213.06 L42.18 213.74 L42.27 214.42 L42.36 215.10 L42.45 215.77 L42.55 216.45 L42.65 217.13 L42.75 217.80 L42.86 218.48 L42.96 219.16 L43.08 219.83 L43.19 220.51 L43.31 221.18 L43.43 221.86 L43.56 222.53 L43.70 223.20 L43.85 223.87 L44.01 224.54 L44.18 225.21 L44.36 225.87 L44.56 226.53 L44.77 227.19 L44.99 227.85 L45.23 228.51 L45.49 229.16 L45.77 229.81 L46.06 230.46 L46.38 231.08 L46.75 231.64 L47.17 232.08 L47.66 232.37 L48.24 232.46 L48.88 232.36 L49.55 232.11 L50.22 231.74 L50.85 231.30 L51.41 230.82 L51.92 230.30 L52.37 229.76 L52.78 229.20 L53.16 228.63 L53.53 228.05 L53.90 227.47 L54.26 226.90 L54.63 226.32 L55.01 225.75 L55.38 225.17 L55.76 224.61 L56.14 224.04 L56.52 223.48 L56.91 222.91 L57.30 222.36 L57.70 221.80 L58.10 221.25 L58.50 220.70 L58.90 220.15 L59.31 219.60 L59.71 219.05 L60.12 218.51 L60.53 217.96 L60.95 217.42 L61.36 216.88 L61.77 216.33 L62.18 215.79 L62.59 215.24 L63.00 214.69 L63.41 214.14 L63.81 213.59 L64.21 213.04 L64.61 212.48 L65.01 211.92 L65.40 211.36 L65.79 210.80 L66.18 210.23 L66.55 209.65 L66.93 209.08 L67.30 208.49 L67.66 207.91 L68.02 207.31 L68.38 206.73 L68.76 206.16 L69.16 205.61 L69.60 205.10 L70.08 204.64 L70.62 204.22 L71.22 203.88 L71.86 203.57 L72.51 203.28 L73.14 202.96 L73.71 202.59 L74.19 202.14 L74.56 201.58 L74.87 200.97 L75.15 200.32 L75.43 199.68 L75.75 199.07 L76.11 198.49 L76.49 197.93 L76.90 197.40 L77.33 196.89 L77.78 196.39 L78.25 195.90 L78.73 195.43 L79.22 194.96 L79.72 194.50 L80.22 194.03 L80.71 193.56 L81.21 193.09 L81.69 192.60 L82.17 192.11 L82.64 191.61 L83.10 191.10 L83.57 190.59 L84.04 190.09 L84.51 189.59 L84.99 189.10 L85.48 188.63 L85.98 188.16 L86.49 187.72 L87.02 187.29 L87.55 186.87 L88.10 186.46 L88.65 186.06 L89.21 185.66 L89.77 185.27 L90.34 184.89 L90.90 184.50 L91.47 184.12 L92.04 183.74 L92.60 183.35 L93.16 182.95 L93.72 182.55 L94.27 182.14 L94.82 181.73 L95.36 181.31 L95.91 180.89 L96.45 180.46 L96.99 180.04 L97.53 179.61 L98.07 179.19 L98.61 178.76 L99.15 178.34 L99.69 177.93 L100.24 177.51 L100.78 177.10 L101.33 176.70 L101.89 176.30 L102.44 175.90 L103.00 175.51 L103.57 175.12 L104.13 174.74 L104.70 174.36 L105.27 173.98 L105.84 173.61 L106.41 173.24 L106.99 172.87 L107.57 172.51 L108.15 172.15 L108.73 171.80 L109.31 171.45 L109.90 171.10 L110.49 170.75 L111.08 170.41 L111.67 170.07 L112.27 169.74 L112.87 169.40 L113.46 169.07 L114.07 168.75 L114.67 168.42 L115.27 168.10 L115.88 167.78 L116.48 167.46 L117.09 167.14 L117.70 166.83 L118.31 166.52 L118.93 166.21 L119.54 165.90 L120.16 165.60 L120.77 165.29 L121.39 164.99 L122.01 164.69 L122.63 164.39 L123.25 164.10 L123.88 163.82 L124.51 163.55 L125.14 163.28 L125.78 163.03 L126.42 162.79 L127.06 162.57 L127.71 162.36 L128.36 162.17 L129.02 162.00 L129.68 161.84 L130.35 161.70 L131.02 161.56 L131.69 161.43 L132.36 161.30 L133.03 161.16 L133.69 161.01 L134.36 160.86 L135.02 160.69 L135.67 160.51 L136.32 160.30 L136.97 160.09 L137.61 159.85 L138.25 159.61 L138.89 159.36 L139.52 159.11 L140.16 158.85 L140.79 158.59 L141.43 158.33 L142.06 158.07 L142.70 157.82 L143.34 157.57 L143.98 157.33 L144.62 157.09 L145.26 156.85 L145.91 156.63 L146.55 156.40 L147.20 156.18 L147.85 155.96 L148.50 155.75 L149.15 155.54 L149.80 155.34 L150.46 155.14 L151.11 154.94 L151.77 154.74 L152.42 154.55 L153.08 154.36 L153.74 154.17 L154.40 153.98 L155.05 153.80 L155.71 153.62 L156.37 153.44 L157.03 153.26 L157.70 153.08 L158.36 152.91 L159.02 152.73 L159.68 152.56 L160.34 152.38 L161.01 152.21 L161.67 152.03 L162.33 151.86 L162.99 151.69 L163.66 151.51 L164.32 151.34 L164.98 151.17 L165.64 150.99 L166.31 150.81 L166.97 150.64 L167.63 150.46 L168.29 150.28 L168.95 150.10 L169.61 149.92 L170.27 149.74 L170.93 149.56 L171.59 149.38 L172.26 149.20 L172.92 149.02 L173.58 148.85 L174.24 148.67 L174.90 148.49 L175.56 148.32 L176.22 148.15 L176.89 147.98 L177.55 147.81 L178.21 147.64 L178.88 147.47 L179.54 147.31 L180.21 147.15 L180.87 146.99 L181.54 146.83 L182.20 146.68 L182.87 146.52 L183.53 146.37 L184.20 146.22 L184.87 146.07 L185.54 145.92 L186.20 145.78 L186.87 145.63 L187.54 145.49 L188.21 145.35 L188.88 145.21 L189.55 145.07 L190.22 144.93 L190.89 144.80 L191.56 144.66 L192.23 144.53 L192.90 144.40 L193.57 144.27 L194.24 144.14 L194.92 144.01 L195.59 143.88 L196.26 143.75 L196.93 143.63 L197.61 143.50 L198.28 143.38 L198.95 143.26 L199.62 143.13 L200.30 143.01 L200.97 142.89 L201.64 142.77 L202.32 142.65 L202.99 142.54 L203.67 142.42 L204.34 142.30 L205.01 142.18 L205.69 142.07 L206.36 141.95 L207.04 141.84 L207.71 141.72 L208.39 141.61 L209.06 141.50 L209.74 141.38 L210.41 141.27 L211.09 141.16 L211.76 141.04 L212.44 140.93 L213.11 140.82 L213.79 140.71 L214.46 140.60 L215.14 140.48 L215.81 140.37 L216.49 140.26 L217.17 140.15 L217.84 140.04 L218.52 139.93 L219.19 139.82 L219.87 139.71 L220.54 139.60 L221.22 139.49 L221.89 139.38 L222.57 139.27 L223.25 139.16 L223.92 139.05 L224.60 138.94 L225.27 138.83 L225.95 138.73 L226.62 138.62 L227.30 138.51 L227.98 138.40 L228.65 138.30 L229.33 138.19 L230.00 138.08 L230.68 137.98 L231.36 137.87 L232.03 137.77 L232.71 137.66 L233.39 137.56 L234.06 137.45 L234.74 137.35 L235.41 137.24 L236.09 137.14 L236.77 137.04 L237.44 136.93 L238.12 136.83 L238.80 136.73 L239.47 136.63 L240.15 136.52 L240.83 136.42 L241.50 136.32 L242.18 136.22 L242.86 136.12 L243.54 136.02 L244.21 135.92 L244.89 135.82 L245.57 135.72 L246.24 135.63 L246.92 135.53 L247.60 135.43 L248.28 135.33 L248.95 135.23 L249.63 135.14 L250.31 135.04 L250.99 134.95 L251.66 134.85 L252.34 134.76 L253.02 134.66 L253.70 134.57 L254.37 134.47 L255.05 134.38 L255.73 134.29 L256.41 134.19 L257.09 134.10 L257.76 134.01 L258.44 133.92 L259.12 133.83 L259.80 133.74 L260.48 133.65 L261.15 133.56 L261.83 133.47 L262.51 133.38 L263.19 133.29 L263.87 133.21 L264.55 133.12 L265.22 133.03 L265.90 132.95 L266.58 132.86 L267.26 132.77 L267.94 132.69 L268.62 132.61 L269.30 132.52 L269.98 132.44 L270.66 132.36 L271.33 132.27 L272.01 132.19 L272.69 132.11 L273.37 132.03 L274.05 131.95 L274.73 131.87 L275.41 131.79 L276.09 131.71 L276.77 131.63 L277.45 131.55 L278.13 131.47 L278.81 131.40 L279.49 131.32 L280.17 131.24 L280.85 131.16 L281.53 131.09 L282.21 131.01 L282.89 130.94 L283.57 130.86 L284.25 130.79 L284.93 130.72 L285.61 130.64 L286.29 130.57 L286.97 130.50 L287.65 130.42 L288.33 130.35 L289.01 130.28 L289.69 130.21 L290.37 130.14 L291.05 130.07 L291.73 130.00 L292.41 129.93 L293.09 129.86 L293.77 129.79 L294.45 129.72 L295.13 129.65 L295.81 129.59 L296.49 129.52 L297.17 129.45 L297.85 129.38 L298.54 129.32 L299.22 129.25 L299.90 129.19 L300.58 129.12 L301.26 129.06 L301.94 128.99 L302.62 128.93 L303.30 128.86 L303.98 128.80 L304.66 128.74 L305.35 128.67 L306.03 128.61 L306.71 128.55 L307.39 128.48 L308.07 128.42 L308.75 128.36 L309.43 128.30 L310.12 128.24 L310.80 128.18 L311.48 128.12 L312.16 128.06 L312.84 128.00 L313.52 127.94 L314.20 127.88 L314.89 127.82 L315.57 127.76 L316.25 127.70 L316.93 127.65 L317.61 127.59 L318.30 127.53 L318.98 127.47 L319.66 127.42 L320.34 127.36 L321.02 127.30 L321.70 127.25 L322.39 127.19 L323.07 127.14 L323.75 127.08 L324.43 127.03 L325.12 126.97 L325.80 126.92 L326.48 126.86 L327.16 126.81 L327.84 126.75 L328.53 126.70 L329.21 126.65 L329.89 126.59 L330.57 126.54 L331.25 126.49 L331.94 126.44 L332.62 126.38 L333.30 126.33 L333.98 126.28 L334.67 126.23 L335.35 126.18 L336.03 126.13 L336.71 126.07 L337.40 126.02 L338.08 125.97 L338.76 125.92 L339.44 125.87 L340.13 125.82 L340.81 125.77 L341.49 125.72 L342.17 125.67 L342.86 125.62 L343.54 125.57 L344.22 125.53 L344.91 125.48 L345.59 125.43 L346.27 125.38 L346.95 125.33 L347.64 125.28 L348.32 125.23 L349.00 125.19 L349.68 125.14 L350.37 125.09 L351.05 125.04 L351.73 125.00 L352.42 124.95 L353.10 124.90 L353.78 124.86 L354.46 124.81 L355.15 124.76 L355.83 124.72 L356.51 124.67 L357.20 124.62 L357.88 124.58 L358.56 124.53 L359.24 124.48 L359.93 124.44 L360.61 124.39 L361.29 124.35 L361.98 124.30 L362.66 124.26 L363.34 124.21 L364.02 124.17 L364.71 124.12 L365.39 124.08 L366.07 124.03 L366.76 123.99 L367.44 123.94 L368.12 123.90 L368.81 123.85 L369.49 123.81 L370.17 123.76 L370.85 123.72 L371.54 123.68 L372.22 123.63 L372.90 123.59 L373.59 123.54 L374.27 123.50 L374.95 123.45 L375.64 123.41 L376.32 123.37 L377.00 123.32 L377.69 123.28 L378.37 123.24 L379.05 123.19 L379.73 123.15 L380.42 123.10 L381.10 123.06 L381.78 123.02 L382.47 122.97 L383.15 122.93 L383.83 122.89 L384.52 122.84 L385.20 122.80 L385.88 122.76 L386.56 122.71 L387.25 122.67 L387.93 122.62 L388.61 122.58 L389.30 122.54 L389.98 122.49 L390.66 122.45 L391.35 122.41 L392.03 122.36 L392.71 122.32 L393.39 122.28 L394.08 122.23 L394.76 122.19 L395.44 122.15 L396.13 122.10 L396.81 122.06 L397.49 122.01 L398.17 121.97 L398.86 121.93 L399.54 121.88 L400.22 121.84 L400.91 121.80 L401.59 121.75 L402.27 121.71 L402.95 121.66 L403.64 121.62 L404.32 121.58 L405.00 121.53 L405.69 121.49 L406.37 121.44 L407.05 121.40 L407.73 121.35 L408.42 121.31 L409.10 121.26 L409.78 121.22 L410.46 121.17 L411.15 121.13 L411.83 121.08 L412.51 121.04 L413.19 120.99 L413.88 120.95 L414.56 120.90 L415.24 120.86 L415.92 120.81 L416.61 120.77 L417.29 120.72 L417.97 120.67 L418.65 120.63 L419.34 120.58 L420.02 120.54 L420.70 120.49 L421.38 120.44 L422.07 120.40 L422.75 120.35 L423.43 120.30 L424.11 120.25 L424.79 120.21 L425.48 120.16 L426.16 120.11 L426.84 120.07 L427.52 120.02 L428.21 119.97 L428.89 119.92 L429.57 119.87 L430.25 119.82 L430.93 119.78 L431.62 119.73 L432.30 119.68" stroke="#0a0aae" stroke-width="1.5"/>
</g>
<g stroke="#1c1c1c" stroke-width="1.35" fill="none">
<rect x="31.1" y="15.6" width="399.15" height="246.4"/>
<g stroke-width="1.0"><line x1="31.20" y1="262.00" x2="31.20" y2="257.30"/><line x1="31.20" y1="15.60" x2="31.20" y2="20.30"/><line x1="51.15" y1="262.00" x2="51.15" y2="259.50"/><line x1="51.15" y1="15.60" x2="51.15" y2="18.10"/><line x1="71.11" y1="262.00" x2="71.11" y2="259.50"/><line x1="71.11" y1="15.60" x2="71.11" y2="18.10"/><line x1="91.06" y1="262.00" x2="91.06" y2="259.50"/><line x1="91.06" y1="15.60" x2="91.06" y2="18.10"/><line x1="111.01" y1="262.00" x2="111.01" y2="259.50"/><line x1="111.01" y1="15.60" x2="111.01" y2="18.10"/><line x1="130.96" y1="262.00" x2="130.96" y2="257.30"/><line x1="130.96" y1="15.60" x2="130.96" y2="20.30"/><line x1="150.91" y1="262.00" x2="150.91" y2="259.50"/><line x1="150.91" y1="15.60" x2="150.91" y2="18.10"/><line x1="170.87" y1="262.00" x2="170.87" y2="259.50"/><line x1="170.87" y1="15.60" x2="170.87" y2="18.10"/><line x1="190.82" y1="262.00" x2="190.82" y2="259.50"/><line x1="190.82" y1="15.60" x2="190.82" y2="18.10"/><line x1="210.77" y1="262.00" x2="210.77" y2="259.50"/><line x1="210.77" y1="15.60" x2="210.77" y2="18.10"/><line x1="230.72" y1="262.00" x2="230.72" y2="257.30"/><line x1="230.72" y1="15.60" x2="230.72" y2="20.30"/><line x1="250.68" y1="262.00" x2="250.68" y2="259.50"/><line x1="250.68" y1="15.60" x2="250.68" y2="18.10"/><line x1="270.63" y1="262.00" x2="270.63" y2="259.50"/><line x1="270.63" y1="15.60" x2="270.63" y2="18.10"/><line x1="290.58" y1="262.00" x2="290.58" y2="259.50"/><line x1="290.58" y1="15.60" x2="290.58" y2="18.10"/><line x1="310.53" y1="262.00" x2="310.53" y2="259.50"/><line x1="310.53" y1="15.60" x2="310.53" y2="18.10"/><line x1="330.49" y1="262.00" x2="330.49" y2="257.30"/><line x1="330.49" y1="15.60" x2="330.49" y2="20.30"/><line x1="350.44" y1="262.00" x2="350.44" y2="259.50"/><line x1="350.44" y1="15.60" x2="350.44" y2="18.10"/><line x1="370.39" y1="262.00" x2="370.39" y2="259.50"/><line x1="370.39" y1="15.60" x2="370.39" y2="18.10"/><line x1="390.35" y1="262.00" x2="390.35" y2="259.50"/><line x1="390.35" y1="15.60" x2="390.35" y2="18.10"/><line x1="410.30" y1="262.00" x2="410.30" y2="259.50"/><line x1="410.30" y1="15.60" x2="410.30" y2="18.10"/><line x1="430.25" y1="262.00" x2="430.25" y2="257.30"/><line x1="430.25" y1="15.60" x2="430.25" y2="20.30"/><line x1="31.10" y1="255.84" x2="33.60" y2="255.84"/><line x1="430.25" y1="255.84" x2="427.75" y2="255.84"/><line x1="31.10" y1="243.52" x2="33.60" y2="243.52"/><line x1="430.25" y1="243.52" x2="427.75" y2="243.52"/><line x1="31.10" y1="231.20" x2="35.80" y2="231.20"/><line x1="430.25" y1="231.20" x2="425.55" y2="231.20"/><line x1="31.10" y1="218.88" x2="33.60" y2="218.88"/><line x1="430.25" y1="218.88" x2="427.75" y2="218.88"/><line x1="31.10" y1="206.56" x2="33.60" y2="206.56"/><line x1="430.25" y1="206.56" x2="427.75" y2="206.56"/><line x1="31.10" y1="194.24" x2="33.60" y2="194.24"/><line x1="430.25" y1="194.24" x2="427.75" y2="194.24"/><line x1="31.10" y1="181.92" x2="33.60" y2="181.92"/><line x1="430.25" y1="181.92" x2="427.75" y2="181.92"/><line x1="31.10" y1="169.60" x2="35.80" y2="169.60"/><line x1="430.25" y1="169.60" x2="425.55" y2="169.60"/><line x1="31.10" y1="157.28" x2="33.60" y2="157.28"/><line x1="430.25" y1="157.28" x2="427.75" y2="157.28"/><line x1="31.10" y1="144.96" x2="33.60" y2="144.96"/><line x1="430.25" y1="144.96" x2="427.75" y2="144.96"/><line x1="31.10" y1="132.64" x2="33.60" y2="132.64"/><line x1="430.25" y1="132.64" x2="427.75" y2="132.64"/><line x1="31.10" y1="120.32" x2="33.60" y2="120.32"/><line x1="430.25" y1="120.32" x2="427.75" y2="120.32"/><line x1="31.10" y1="108.00" x2="35.80" y2="108.00"/><line x1="430.25" y1="108.00" x2="425.55" y2="108.00"/><line x1="31.10" y1="95.68" x2="33.60" y2="95.68"/><line x1="430.25" y1="95.68" x2="427.75" y2="95.68"/><line x1="31.10" y1="83.36" x2="33.60" y2="83.36"/><line x1="430.25" y1="83.36" x2="427.75" y2="83.36"/><line x1="31.10" y1="71.04" x2="33.60" y2="71.04"/><line x1="430.25" y1="71.04" x2="427.75" y2="71.04"/><line x1="31.10" y1="58.72" x2="33.60" y2="58.72"/><line x1="430.25" y1="58.72" x2="427.75" y2="58.72"/><line x1="31.10" y1="46.40" x2="35.80" y2="46.40"/><line x1="430.25" y1="46.40" x2="425.55" y2="46.40"/><line x1="31.10" y1="34.08" x2="33.60" y2="34.08"/><line x1="430.25" y1="34.08" x2="427.75" y2="34.08"/><line x1="31.10" y1="21.76" x2="33.60" y2="21.76"/><line x1="430.25" y1="21.76" x2="427.75" y2="21.76"/></g>
</g>
<g font-size="10.4px" fill="#000" stroke="#000" stroke-width="0.12"><text transform="translate(31.40,274.0) scale(0.94,1)" text-anchor="middle">0</text><text transform="translate(131.16,274.0) scale(0.94,1)" text-anchor="middle">10</text><text transform="translate(230.92,274.0) scale(0.94,1)" text-anchor="middle">20</text><text transform="translate(330.69,274.0) scale(0.94,1)" text-anchor="middle">30</text><text transform="translate(430.45,274.0) scale(0.94,1)" text-anchor="middle">40</text><text transform="translate(28.5,50.25) scale(0.94,1)" text-anchor="end">−1</text><text transform="translate(28.5,111.85) scale(0.94,1)" text-anchor="end">−2</text><text transform="translate(28.5,173.45) scale(0.94,1)" text-anchor="end">−3</text><text transform="translate(28.5,235.05) scale(0.94,1)" text-anchor="end">−4</text></g>
<g font-size="14.7px" fill="#000"><text transform="translate(174.2,11.6) scale(1.075,1)" dx="0 0.3 0.45 0 -0.3 0 0.3 0 -0.3 0">(d) <tspan font-style="italic">n</tspan>=1.5,</text><text transform="translate(246.3,11.6) scale(1.06,1)" font-size="17px" font-style="italic" font-family="Liberation Serif">β</text><text transform="translate(256.2,11.6) scale(1.075,1)">=2.5</text></g>
<text transform="translate(7.8,139.3) rotate(-90) scale(0.82,1)" font-size="14.5px" text-anchor="middle" fill="#000">s</text>
<g font-family="Liberation Serif" fill="#000"><text transform="translate(215.9,296.2) scale(0.88,1)" font-size="17.4px" font-style="italic">t<tspan font-style="normal" dy="1.4">/</tspan><tspan dy="-1.4">t</tspan></text><text transform="translate(228.7,297.5) scale(0.97,1)" font-size="11px">mtb</text></g>
</svg>
</body></html>
